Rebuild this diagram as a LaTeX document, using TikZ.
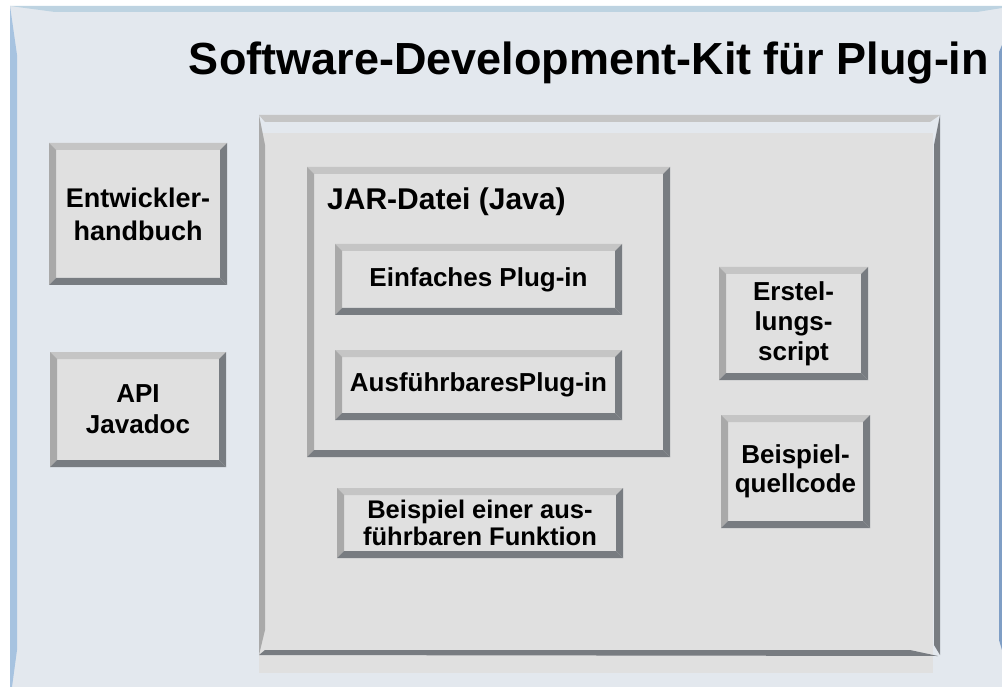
\documentclass[tikz,border=0pt]{standalone}
\usepackage{fontspec}
\setmainfont{Liberation Sans}
\definecolor{bgc}{HTML}{E3E8EE}
\definecolor{otop}{HTML}{BDD3E1}
\definecolor{oleft}{HTML}{A7C3E0}
\definecolor{oright}{HTML}{7F9EC5}
\definecolor{facec}{HTML}{E0E0E0}
\definecolor{btop}{HTML}{C5C5C5}
\definecolor{bleft}{HTML}{A9A9A9}
\definecolor{bdark}{HTML}{787C81}
\newcommand\bvbox[8]{% name, x1, y1, x2, y2, bevel, {size}{skip}, text
  \fill[facec] (#2,#3) rectangle (#4,#5);
  \fill[btop] (#2,#3) -- (#4,#3) -- (#4-#6,#3+#6) -- (#2+#6,#3+#6) -- cycle;
  \fill[bleft] (#2,#3) -- (#2+#6,#3+#6) -- (#2+#6,#5-#6) -- (#2,#5) -- cycle;
  \fill[bdark] (#4,#3) -- (#4,#5) -- (#4-#6,#5-#6) -- (#4-#6,#3+#6) -- cycle;
  \fill[bdark] (#2,#5) -- (#4,#5) -- (#4-#6,#5-#6) -- (#2+#6,#5-#6) -- cycle;
  \node[lbl, font=\fontsize#7\selectfont\bfseries] (#1) at ({(#2+#4)/2},{(#3+#5)/2}) {#8};
}
\tikzset{lbl/.style={align=center, inner sep=0pt, text=black}}
\begin{document}
\begin{tikzpicture}[x=1pt,y=-1pt]
\useasboundingbox (0,0) rectangle (1002,687);
\fill[white] (0,0) rectangle (1002,687);
% outer frame
\fill[bgc] (10,6) rectangle (1002,687);
\fill[otop] (10,6) -- (1002,6) -- (1002,8) -- (977,12) -- (55,12) -- cycle;
\fill[oleft] (10,6) -- (17,55) -- (17,650) -- (12,687) -- (10,687) -- cycle;
\fill[oright] (1002,45) -- (999,52) -- (999,640) -- (1002,650) -- cycle;
\node[font=\fontsize{45}{50}\selectfont\bfseries, inner sep=0pt, anchor=base] (title) at (589,75) {Software-Development-Kit für Plug-in};
% big inner box
\fill[facec] (259,133) rectangle (933,673);
\fill[btop] (259,115) -- (940,115) -- (930,122) -- (265,122) -- cycle;
\fill[bleft] (259,115) -- (265,145) -- (265,630) -- (259,655) -- cycle;
\fill[bdark] (940,115) -- (940,655) -- (934,645) -- (934,145) -- cycle;
\fill[bdark] (259,655) -- (938,656) -- (910,650) -- (265,650) -- cycle;
% left boxes
\bvbox{dev}{49}{143}{227}{285}{7}{{27}{33}}{Entwickler-\\handbuch}
\bvbox{api}{50}{352}{226}{467}{7}{{26}{31}}{API\\Javadoc}
% JAR box
\bvbox{jarbox}{307}{167}{670}{457}{7}{{30}{30}}{}
\node[lbl, font=\fontsize{30}{34}\selectfont\bfseries, anchor=base west] (jar) at (327,210) {JAR-Datei (Java)};
\bvbox{simple}{335}{244}{622}{315}{7}{{26}{30}}{Einfaches Plug-in}
\bvbox{exec}{335}{350}{622}{420}{7}{{26}{30}}{AusführbaresPlug-in}
\bvbox{example}{337}{488}{623}{558}{7}{{25.5}{27}}{Beispiel einer aus-\\führbaren Funktion}
\bvbox{build}{719}{267}{868}{380}{7}{{26}{30}}{Erstel-\\lungs-\\script}
\bvbox{source}{721}{415}{870}{528}{7}{{26}{29}}{Beispiel-\\quellcode}
\end{tikzpicture}
\end{document}
